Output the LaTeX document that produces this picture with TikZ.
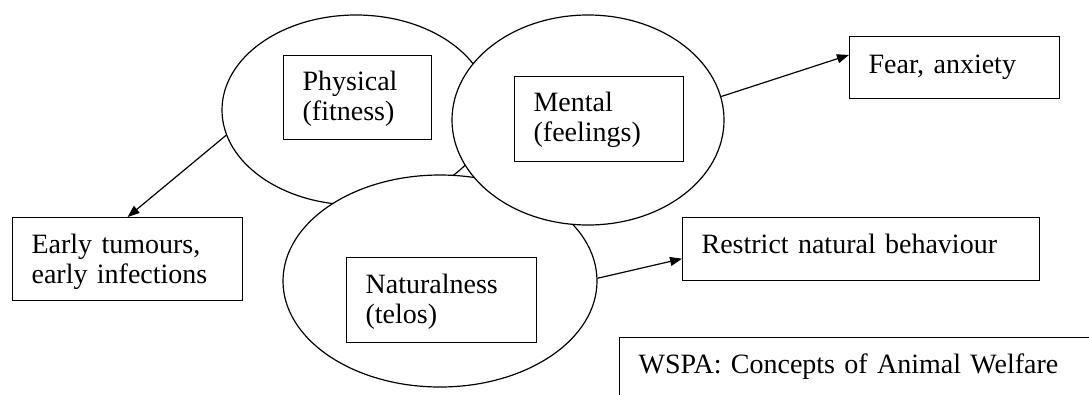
\documentclass[tikz,border=0pt]{standalone}
\usepackage{fontspec}
\setmainfont{Liberation Serif}
\usetikzlibrary{shapes.geometric, arrows.meta, calc}

\begin{document}
\begin{tikzpicture}[x=1pt, y=-1pt, font=\fontsize{28}{30}\selectfont, >={Triangle[length=12pt, width=9pt]},
    ring/.style={draw, ellipse, line width=1.2pt, fill=white, inner sep=0pt},
    lbl/.style={draw, line width=1.2pt, fill=white, anchor=north west, align=left, inner xsep=19pt, inner ysep=0pt},
    flow/.style={->, line width=1.2pt}]

  \clip (0,0) rectangle (1089,394);

  % three overlapping concepts
  \node[ring, minimum width=268pt, minimum height=190pt] (phys) at (356,110) {};
  \node[lbl, text width=110pt, text height=35pt, text depth=49pt] (physbox) at (283,55) {Physical\\(fitness)};
  \node[ring, minimum width=314pt, minimum height=212pt] (nat) at (440,281) {};
  \node[lbl, text width=152pt, text height=36pt, text depth=49pt] (natbox) at (346,257) {Naturalness\\(telos)};
  \node[ring, minimum width=272pt, minimum height=210pt] (mental) at (588,120) {};
  \node[lbl, text width=131pt, text height=35pt, text depth=50pt] (mentbox) at (514,76) {Mental\\(feelings)};

  % outcomes
  \node[lbl, text width=192pt, text height=36pt, text depth=47pt] (early) at (12,217) {Early tumours,\\early infections};
  \node[lbl, text width=172pt, text height=37pt, text depth=25pt] (fear) at (849,36) {Fear, anxiety};
  \node[lbl, text width=319pt, text height=36pt, text depth=27pt] (restrict) at (682,217) {Restrict natural behaviour};
  \node[lbl, text width=482pt, text height=36pt, text depth=80pt] (wspa) at (619,337) {WSPA: Concepts of Animal Welfare};

  % arrows
  \draw[flow] (phys.191) -- (early.north);
  \draw[flow] (mental.10) -- ($(fear.north west)!0.3!(fear.south west)$);
  \draw[flow] (nat.1) -- ($(restrict.north west)!0.65!(restrict.south west)$);
\end{tikzpicture}
\end{document}
